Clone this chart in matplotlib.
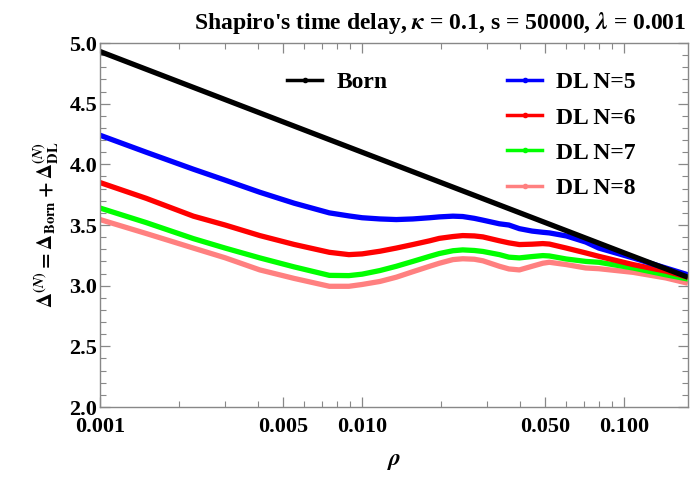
import numpy as np
import matplotlib.pyplot as plt
from matplotlib.lines import Line2D
from matplotlib.ticker import FixedLocator, FixedFormatter, MultipleLocator

plt.rcParams['font.family'] = ['Liberation Serif', 'DejaVu Serif']
plt.rcParams['font.weight'] = 'bold'
plt.rcParams['mathtext.fontset'] = 'stix'

# Datos
rho = [0.001, 0.0015, 0.00227, 0.003, 0.00407, 0.0055, 0.0075, 0.0089, 0.01,
       0.0117, 0.0135, 0.0156, 0.0181, 0.0197, 0.0222, 0.0242, 0.0268, 0.0289,
       0.0334, 0.0363, 0.0398, 0.0445, 0.0489, 0.0518, 0.0601, 0.0713, 0.080,
       0.108, 0.144, 0.175]

born_rho = [0.001, 0.01, 0.1, 0.175]
born = [4.93, 4.10, 3.27, 3.07]

dl5 = [4.24, 4.10, 3.96, 3.87, 3.77, 3.68, 3.60, 3.575, 3.56, 3.55, 3.545,
       3.55, 3.56, 3.567, 3.573, 3.57, 3.555, 3.54, 3.51, 3.50, 3.47, 3.45,
       3.44, 3.435, 3.41, 3.36, 3.31, 3.229, 3.146, 3.09]
dl6 = [3.85, 3.72, 3.573, 3.50, 3.413, 3.34, 3.275, 3.256, 3.262, 3.284, 3.31,
       3.339, 3.37, 3.39, 3.405, 3.413, 3.41, 3.402, 3.37, 3.353, 3.339, 3.342,
       3.347, 3.343, 3.31, 3.27, 3.242, 3.174, 3.12, 3.07]
dl7 = [3.64, 3.52, 3.388, 3.31, 3.229, 3.155, 3.085, 3.083, 3.095, 3.125, 3.16,
       3.20, 3.242, 3.265, 3.288, 3.295, 3.29, 3.282, 3.256, 3.235, 3.229, 3.24,
       3.248, 3.245, 3.22, 3.20, 3.193, 3.146, 3.09, 3.055]
dl8 = [3.545, 3.43, 3.31, 3.23, 3.13, 3.06, 2.995, 2.995, 3.01, 3.035, 3.07,
       3.115, 3.16, 3.185, 3.215, 3.222, 3.218, 3.205, 3.16, 3.138, 3.13, 3.16,
       3.185, 3.193, 3.174, 3.146, 3.14, 3.11, 3.064, 3.02]

series = [dl5, dl6, dl7, dl8]
labels = ['DL N=5', 'DL N=6', 'DL N=7', 'DL N=8']
colores = ['#0000ff', '#ff0000', '#00ff00', '#ff8080']

xticks = [0.001, 0.005, 0.010, 0.050, 0.100]
xticklabels = ['0.001', '0.005', '0.010', '0.050', '0.100']

fig = plt.figure(figsize=(6.9, 4.78), dpi=100)
ax = fig.add_axes([0.145, 0.1485, 0.852, 0.7615])

# Curvas (las de abajo primero)
for y, c in zip(series[::-1], colores[::-1]):
    ax.plot(rho, y, color=c, lw=3.8, solid_capstyle='butt', solid_joinstyle='round')
ax.plot(born_rho, born, color='black', lw=3.8, solid_capstyle='butt')

ax.set_xscale('log')
ax.set_xlim(0.001, 0.175)
ax.set_ylim(2.0, 5.0)

ax.xaxis.set_major_locator(FixedLocator(xticks))
ax.xaxis.set_major_formatter(FixedFormatter(xticklabels))
minors = [k * 10.0**e for e in (-3, -2, -1) for k in range(2, 10)]
ax.xaxis.set_minor_locator(FixedLocator(minors))
ax.xaxis.set_minor_formatter(FixedFormatter([''] * len(minors)))
ax.yaxis.set_major_locator(MultipleLocator(0.5))
ax.yaxis.set_minor_locator(MultipleLocator(0.1))
ax.yaxis.set_major_formatter(plt.FormatStrFormatter('%.1f'))

ax.tick_params(which='both', direction='in', top=True, right=True,
               color='#888888', labelsize=16, pad=2)
ax.tick_params(axis='x', which='major', pad=7)
ax.tick_params(which='major', length=7, width=0.9)
ax.tick_params(which='minor', length=4, width=0.8)
for s in ax.spines.values():
    s.set_color('#888888')
    s.set_linewidth(1.0)

ax.set_title(r"Shapiro's time delay, $\kappa$ = 0.1, s = 50000, $\lambda$ = 0.001",
             fontsize=17, fontweight='bold', x=0.578, pad=10)
ax.set_xlabel(r'$\rho$', fontsize=17, labelpad=10)
ax.set_ylabel(r'$\Delta^{(N)} = \Delta_{\mathbf{Born}} + \Delta^{(N)}_{\mathbf{DL}}$',
              fontsize=15, labelpad=6)

# Leyendas estilo Mathematica
h_born = [Line2D([], [], color='black', lw=2.5, marker='o', markersize=3)]
leg1 = ax.legend(h_born, ['Born'], loc='upper left', bbox_to_anchor=(0.318, 0.921),
                 frameon=False, fontsize=17, handlelength=1.5, handletextpad=0.6,
                 borderpad=0, borderaxespad=0)
ax.add_artist(leg1)
h_dl = [Line2D([], [], color=c, lw=2.5, marker='o', markersize=3) for c in colores]
ax.legend(h_dl, labels, loc='upper left', bbox_to_anchor=(0.692, 0.921),
          frameon=False, fontsize=17, handlelength=1.5, handletextpad=0.6,
          labelspacing=0.58, borderpad=0, borderaxespad=0)

plt.savefig('out.png', dpi=100)
